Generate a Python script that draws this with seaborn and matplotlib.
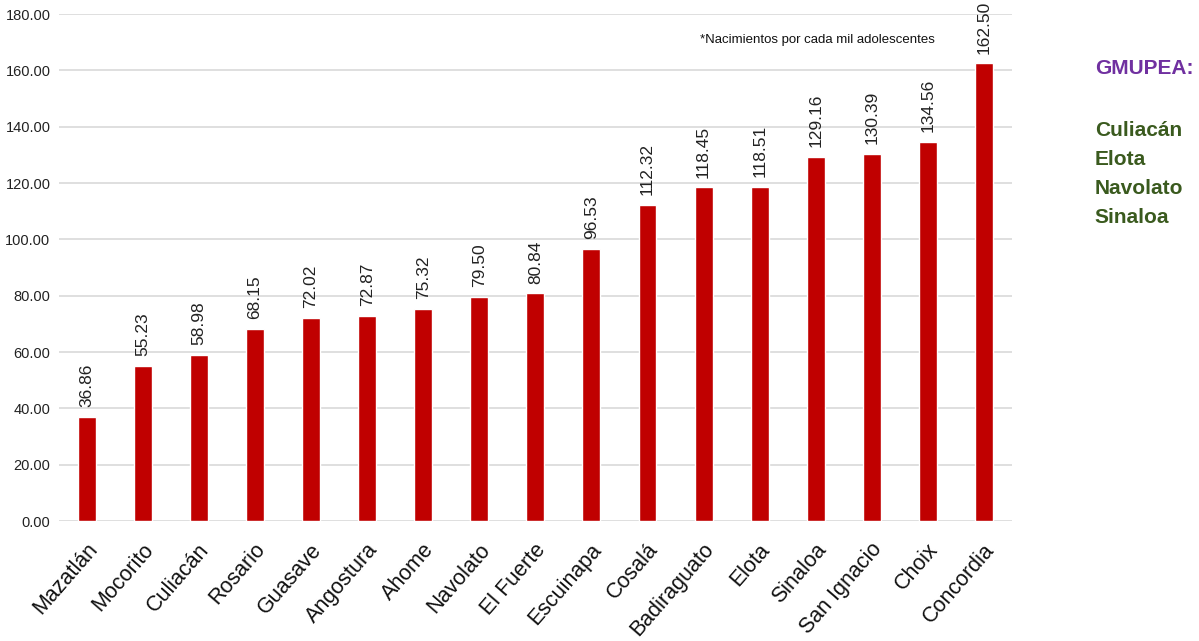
import matplotlib
matplotlib.use("Agg")
import matplotlib.pyplot as plt
import matplotlib.transforms as mtransforms
import seaborn as sns
import pandas as pd

# === DATOS
municipios = ["Mazatlán", "Mocorito", "Culiacán", "Rosario", "Guasave", "Angostura",
              "Ahome", "Navolato", "El Fuerte", "Escuinapa", "Cosalá", "Badiraguato",
              "Elota", "Sinaloa", "San Ignacio", "Choix", "Concordia"]
tasas = [36.86, 55.23, 58.98, 68.15, 72.02, 72.87, 75.32, 79.50, 80.84, 96.53,
         112.32, 118.45, 118.51, 129.16, 130.39, 134.56, 162.50]
gmupea = ["Culiacán", "Elota", "Navolato", "Sinaloa"]
yticks = [0, 20, 40, 60, 80, 100, 120, 140, 160, 180]

df = pd.DataFrame({"municipio": municipios, "tasa": tasas})

sns.set_style("white")
plt.rcParams["font.family"] = ["Liberation Sans", "DejaVu Sans"]

fig = plt.figure(figsize=(11.99, 6.41), dpi=100)
ax = fig.add_axes([0.049, 0.187, 0.795, 0.791])

sns.barplot(data=df, x="municipio", y="tasa", color="#C00000", width=0.32,
            saturation=1, ax=ax)

for i, v in enumerate(tasas):
    ax.text(i, v + 3.5, f"{v:.2f}", rotation=90, ha="center", va="bottom",
            fontsize=12.5, color="#222222")

ax.set_ylim(0, 180)
ax.set_xlim(-0.5, len(municipios) - 0.5)
ax.set_yticks(yticks)
ax.set_yticklabels([f"{t:.2f}" for t in yticks], fontsize=10.5, color="#222222")
ax.yaxis.grid(True, color="#d9d9d9", linewidth=1.2)
ax.set_axisbelow(True)
ax.tick_params(axis="y", length=0, pad=6)
ax.tick_params(axis="x", length=0, pad=18)
for s in ax.spines.values():
    s.set_visible(False)
ax.set_xlabel("")
ax.set_ylabel("")
# desplazar etiquetas un poco a la derecha
shift = mtransforms.ScaledTranslation(5 / 72, 0, fig.dpi_scale_trans)
for lbl in ax.get_xticklabels():
    lbl.set_rotation(49)
    lbl.set_ha("right")
    lbl.set_va("center")
    lbl.set_rotation_mode("anchor")
    lbl.set_fontsize(15.5)
    lbl.set_color("#111111")
    lbl.set_transform(lbl.get_transform() + shift)

ax.text(0.796, 0.949, "*Nacimientos por cada mil adolescentes", transform=ax.transAxes,
        ha="center", va="center", fontsize=9.5, color="#111111")

fig.text(0.913, 0.893, "GMUPEA:", fontsize=15, fontweight="bold", color="#7030A0",
         ha="left", va="center")
fig.text(0.913, 0.729, "\n".join(gmupea), fontsize=15, fontweight="bold",
         color="#3A5A1E", ha="left", va="center", linespacing=1.67)

fig.savefig("out.png", dpi=100)
